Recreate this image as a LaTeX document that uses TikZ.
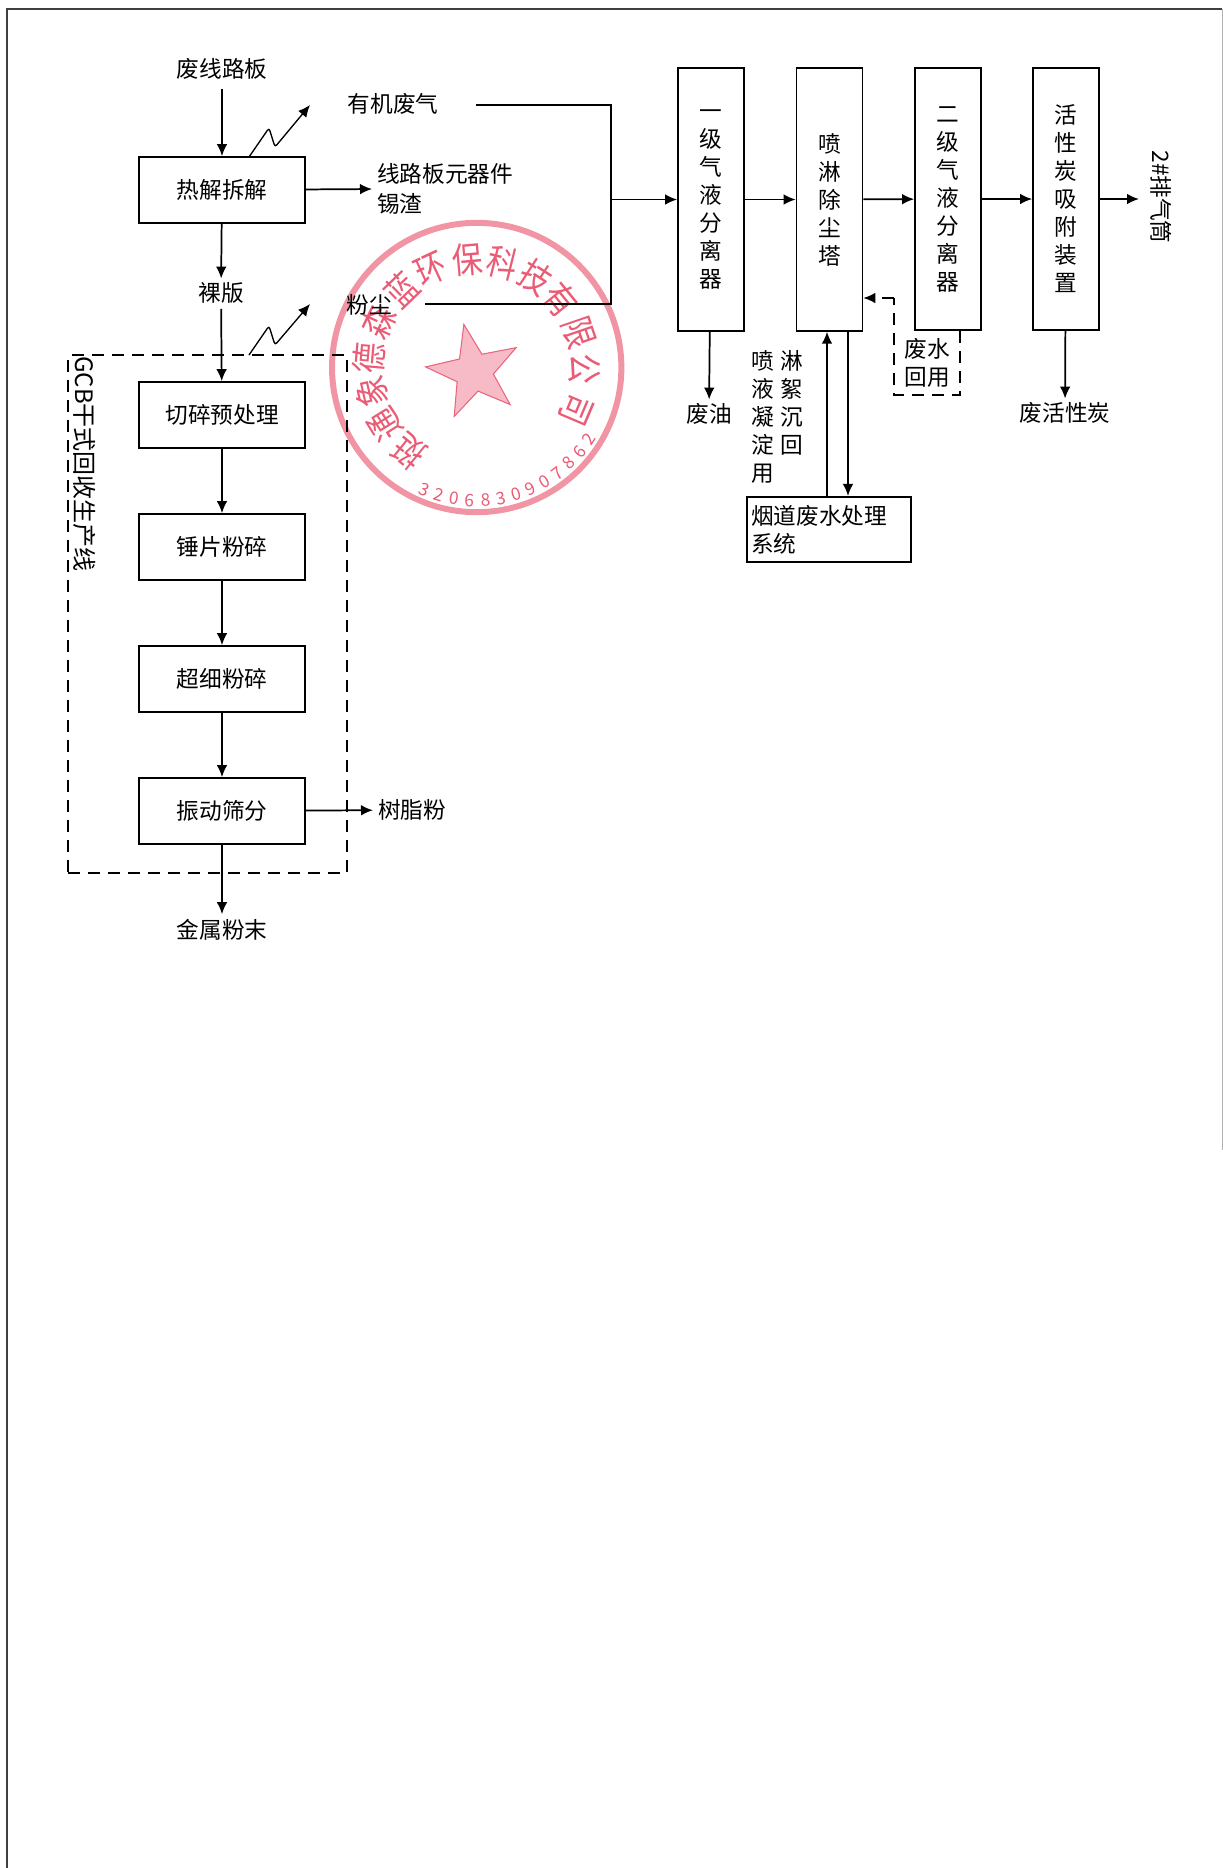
\documentclass[tikz,border=0pt]{standalone}
\usepackage{fontspec}
\setmainfont{Noto Sans CJK SC}
\usetikzlibrary{arrows.meta,shapes.geometric,calc}
\definecolor{stampred}{RGB}{230,62,92}

\tikzset{
  flow/.style={line width=1.3pt,-{Latex[length=9pt,width=8pt]}},
  plain/.style={line width=1.3pt},
  dash line/.style={line width=1.1pt,dash pattern=on 9pt off 6pt},
  txt/.style={font=\fontsize{17}{21}\selectfont,inner sep=0.75pt,align=center},
  stepbox/.style={draw,line width=1.3pt,font=\fontsize{17}{21}\selectfont,minimum width=124.5pt,minimum height=49.5pt,inner sep=0pt},
  tallbox/.style={draw,line width=1.3pt,font=\fontsize{17}{21}\selectfont,minimum width=49.5pt,minimum height=197pt,inner sep=0pt,align=center}
}

\begin{document}
\begin{tikzpicture}[x=0.75pt,y=0.75pt,yscale=-1,xscale=1]
  \useasboundingbox (0,0) rectangle (1223,1868);

  % Stamp
  \node [circle,draw=stampred!55,line width=4.5pt,minimum size=217pt,inner sep=0pt] (stampring) at (476.7,367.5) {};
  \node [star,star points=5,star point ratio=2.5,fill=stampred!35,draw=stampred!80,line width=0.8pt,minimum size=73pt,inner sep=0pt,rotate=12] (stampstar) at (474,372) {};
  \foreach \ch/\ang in {挺/231,通/212,象/193,德/175,森/155,蓝/134,环/115,保/95,科/76,技/57,有/39,限/19,公/-1,司/-23}
    \node [text=stampred!85,inner sep=0pt,font=\fontsize{27}{27}\selectfont,rotate=\ang-90] (stamp\ang) at ($(476.7,367.5)+(\ang:108 and -108)$) {\scalebox{0.85}[1]{\ch}};
  \foreach \ch [count=\i from 0] in {3,2,0,6,8,3,0,9,0,7,8,6,2}
    \node [text=stampred!85,inner sep=0pt,font=\fontsize{13}{13}\selectfont,rotate=\i*6.7-23] (stampno\i) at ($(476.7,367.5)+({-113+\i*6.7}:133 and -133)$) {\ch};

  % Page edge
  \draw [line width=1.2pt,color=black!75] (7,1868) -- (7,9) -- (1222,9);
  \draw [line width=1pt,color=black!30] (1222.3,9) -- (1222.3,1150);

  % Left column
  \node [txt] (board) at (222,69) {废线路板};
  \node [stepbox] (pyro) at (222,190) {热解拆解};
  \node [txt] (bare) at (221,293) {裸版};
  \node [stepbox] (shred) at (222,415) {切碎预处理};
  \node [stepbox] (hammer) at (222,547) {锤片粉碎};
  \node [stepbox] (fine) at (222,679) {超细粉碎};
  \node [stepbox] (vib) at (222,811) {振动筛分};
  \node [txt] (metal) at (222,930) {金属粉末};

  % Outputs on the right of the column
  \node [txt] (gas) at (393,104) {有机废气};
  \node [txt,anchor=west,align=left,font=\fontsize{17}{22.5}\selectfont] (parts) at (376,189) {线路板元器件\\锡渣};
  \node [txt] (dust) at (369,305) {粉尘};
  \node [txt,anchor=west] (resin) at (377,810) {树脂粉};

  % Dashed line box
  \node [draw,dash line,minimum width=209pt,minimum height=388.5pt,inner sep=0pt] (gcb) at (207.5,614) {};
  \node [txt,rotate=-90,font=\fontsize{18}{21}\selectfont] (gcbtxt) at (85,464) {GCB干式回收生产线};

  % Gas treatment
  \node [tallbox] (sepa) at (711,199.5) {一\\级\\气\\液\\分\\离\\器};
  \node [tallbox] (spray) at (829.5,199.5) {喷\\淋\\除\\尘\\塔};
  \node [tallbox] (sepb) at (948,199) {二\\级\\气\\液\\分\\离\\器};
  \node [tallbox] (carbon) at (1066,199) {活\\性\\炭\\吸\\附\\装\\置};
  \node [txt,rotate=-90] (stack) at (1161,197) {2\#排气筒};
  \node [txt] (oil) at (709,414) {废油};
  \node [txt] (spent) at (1065,413) {废活性炭};
  \node [txt] (reuse) at (927,363) {废水\\回用};
  \node [txt] (liquor) at (763,417) {喷\\液\\凝\\淀\\用};
  \node [txt] (floc) at (792,403) {淋\\絮\\沉\\回};
  \node [draw,line width=1.3pt,font=\fontsize{17}{21}\selectfont,text width=117pt,minimum height=49pt,inner sep=3pt,align=left] (flue) at (829,529.5) {烟道废水处理\\系统};

  % Free ends
  \coordinate (gasout) at (476,105);
  \coordinate (gasturn) at (611,105);
  \coordinate (dustturn) at (611,304);
  \coordinate (dustout) at (425,304);
  \coordinate (join) at (611,199.5);
  \coordinate (zigastart) at (249,157);
  \coordinate (zigaend) at (310,105);
  \coordinate (zigbstart) at (249,355);
  \coordinate (zigbend) at (310,304);
  \coordinate (backa) at (960,331);
  \coordinate (backb) at (960,395);
  \coordinate (backc) at (894,395);
  \coordinate (backd) at (894,298);
  \coordinate (upfoot) at (827,497);
  \coordinate (downtop) at (848,331);
  \coordinate (stackin) at (1139,199);

  % Straight Lines
  \draw [flow,shorten <=6pt] (board) -- (pyro);
  \draw [flow,shorten >=2pt] (pyro) -- (bare);
  \draw [flow,shorten <=3pt] (bare) -- (shred);
  \draw [flow] (shred) -- (hammer);
  \draw [flow] (hammer) -- (fine);
  \draw [flow] (fine) -- (vib);
  \draw [flow,shorten >=3pt] (vib) -- (metal);
  \draw [flow,shorten >=3pt] (pyro) -- (parts.west);
  \draw [flow,shorten >=3pt] (vib) -- (resin);
  \draw [plain] (gasout) -- (gasturn) -- (dustturn) -- (dustout);
  \draw [flow] (join) -- (sepa);
  \draw [flow] (sepa) -- (spray);
  \draw [flow] (spray) -- (sepb);
  \draw [flow] (sepb) -- (carbon);
  \draw [flow] (carbon.east) -- (stackin);
  \draw [flow,shorten >=2pt] (sepa) -- (oil);
  \draw [flow,shorten >=2pt] (carbon) -- (spent);
  \draw [flow] (upfoot) -- (upfoot |- spray.south);
  \draw [flow] (downtop) -- (downtop |- flue.north);

  % Recycled water
  \draw [dash line] (backa) -- (backb) -- (backc) -- (backd);
  \draw [dash line,-{Latex[length=9pt,width=8pt]}] (backd) -- (backd -| spray.east);

  % Fume arrows
  \draw [line width=1pt,rounded corners=2pt,-{Latex[length=9pt,width=8pt]}] (zigastart) -- ++(20,-29) -- ++(6,19) -- (zigaend);
  \draw [line width=1pt,rounded corners=2pt,-{Latex[length=9pt,width=8pt]}] (zigbstart) -- ++(20,-29) -- ++(6,19) -- (zigbend);
\end{tikzpicture}
\end{document}
